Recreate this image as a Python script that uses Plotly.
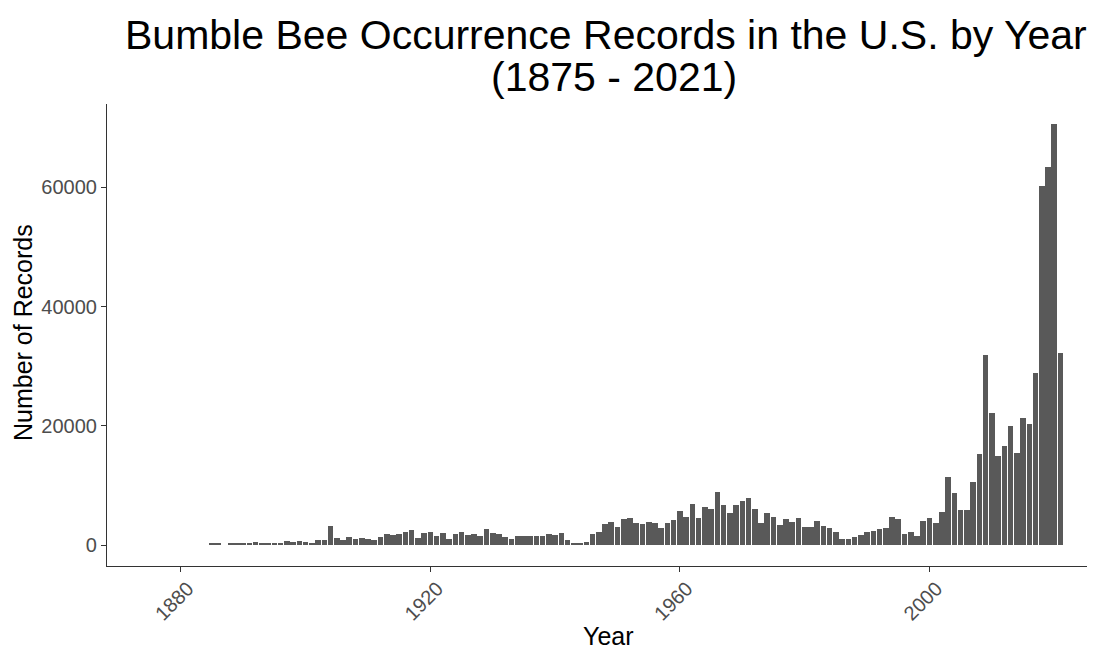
import plotly.graph_objects as go

years = [1885, 1886] + list(range(1888, 2022))
records = [
    200, 200,                                   # 1885-1886
    200, 200, 200, 200, 450, 250, 250, 200, 200, 670,   # 1888-1897
    450, 640, 450, 420, 850, 850, 3250, 1100, 800, 1300,  # 1898-1907
    1000, 1230, 950, 900, 1320, 1850, 1720, 1930, 2120, 2460,  # 1908-1917
    1250, 1950, 2200, 1540, 1960, 1060, 1790, 2150, 1730, 1790,  # 1918-1927
    1480, 2630, 2070, 1870, 1290, 1060, 1590, 1590, 1590, 1590,  # 1928-1937
    1590, 1790, 1740, 1960, 890, 390, 390, 450, 1900, 2210,  # 1938-1947
    3520, 3940, 3075, 4330, 4610, 3700, 3490, 3940, 3690, 2795,  # 1948-1957
    3690, 4190, 5680, 4750, 6960, 4580, 6450, 6090, 8920, 6710,  # 1958-1967
    5450, 6710, 7320, 7960, 6040, 3720, 5450, 4750, 3440, 4330,  # 1968-1977
    3910, 4580, 3075, 3075, 4110, 3270, 2820, 2180, 1090, 1090,  # 1978-1987
    1290, 1700, 2210, 2400, 2630, 2770, 4750, 4300, 1790, 2180,  # 1988-1997
    1565, 4080, 4580, 3745, 5590, 11350, 8660, 5870, 5870, 10620,  # 1998-2007
    15200, 31860, 22080, 14950, 16660, 19960, 15370, 21240, 20350, 28790,  # 2008-2017
    60200, 63450, 70600, 32250,  # 2018-2021
]

x_ticks = [1880, 1920, 1960, 2000]
y_ticks = [0, 20000, 40000, 60000]

title_line1 = "Bumble Bee Occurrence Records in the U.S. by Year"
title_line2 = "(1875 - 2021)"
x_title = "Year"
y_title = "Number of Records"

fig = go.Figure()
fig.add_trace(go.Bar(
    x=years, y=records, width=0.9,
    marker=dict(color="#595959", line=dict(width=0)),
    hoverinfo="x+y",
))

font_family = "Liberation Sans, Arial, sans-serif"
# the page body adds an 8px offset; figure is sized to compensate
OFF = 8
W, H = 1095 - OFF, 650 - OFF
ML, MT, MR, MB = 107 - OFF, 104 - OFF, 0, 84
PH = H - MT - MB
PW = W - ML - MR

def py(page_y):
    return (566 - page_y) / PH

def px(page_x):
    return (page_x - 107) / PW

fig.update_layout(
    width=W, height=H,
    margin=dict(l=ML, r=MR, t=MT, b=MB, autoexpand=False),
    paper_bgcolor="white", plot_bgcolor="white",
    showlegend=False,
    bargap=0,
    font=dict(family=font_family, color="black"),
    xaxis=dict(
        range=[1868.17, 2026.53],
        tickmode="array", tickvals=x_ticks, ticktext=[str(t) for t in x_ticks],
        tickangle=-45,
        tickfont=dict(size=20, color="#4D4D4D"),
        ticklabelshift=7, ticklabelstandoff=-3,
        ticks="outside", ticklen=5, tickcolor="#333333", tickwidth=1,
        showline=True, linecolor="#333333", linewidth=1.2,
        showgrid=False, zeroline=False, automargin=False,
    ),
    yaxis=dict(
        range=[-3524, 74000],
        tickmode="array", tickvals=y_ticks, ticktext=[str(t) for t in y_ticks],
        tickfont=dict(size=20, color="#4D4D4D"),
        ticks="outside", ticklen=5, tickcolor="#333333", tickwidth=1,
        showline=True, linecolor="#333333", linewidth=1.2,
        showgrid=False, zeroline=False, automargin=False,
    ),
    annotations=[
        dict(text=title_line1, xref="paper", yref="paper", x=px(606), y=py(35),
             xanchor="center", yanchor="middle", showarrow=False,
             font=dict(size=41, family=font_family, color="black")),
        dict(text=title_line2, xref="paper", yref="paper", x=px(614), y=py(77),
             xanchor="center", yanchor="middle", showarrow=False,
             font=dict(size=41, family=font_family, color="black")),
        dict(text=x_title, xref="paper", yref="paper", x=px(608), y=py(636),
             xanchor="center", yanchor="middle", showarrow=False,
             font=dict(size=25, family=font_family, color="black")),
        dict(text=y_title, xref="paper", yref="paper", x=px(23), y=py(333),
             xanchor="center", yanchor="middle", showarrow=False, textangle=-90,
             font=dict(size=25, family=font_family, color="black")),
    ],
)

fig.write_html("out.html")
